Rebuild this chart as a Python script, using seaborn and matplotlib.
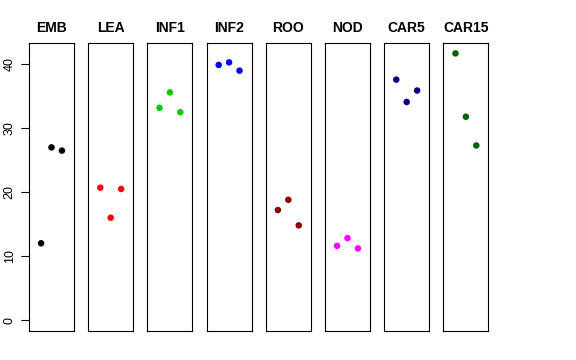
import pandas as pd
import matplotlib
matplotlib.use("Agg")
import matplotlib.pyplot as plt
import seaborn as sns

# Tissue groups and their three replicate values
groups = ["EMB", "LEA", "INF1", "INF2", "ROO", "NOD", "CAR5", "CAR15"]
emb = [12.0, 27.0, 26.5]
lea = [20.7, 16.0, 20.5]
inf1 = [33.2, 35.6, 32.5]
inf2 = [39.9, 40.3, 39.0]
roo = [17.2, 18.8, 14.8]
nod = [11.6, 12.8, 11.2]
car5 = [37.6, 34.1, 35.9]
car15 = [41.7, 31.8, 27.3]
colors = ["black", "red", "#00CD00", "blue", "#8B0000", "magenta", "#00008B", "#006400"]
replicate = [1, 2, 3]
y_ticks = [0, 10, 20, 30, 40]

values = [emb, lea, inf1, inf2, roo, nod, car5, car15]
df = pd.DataFrame({
    "group": [g for g in groups for _ in replicate],
    "replicate": replicate * len(groups),
    "value": [v for vals in values for v in vals],
})

sns.set_style("white")
plt.rcParams["font.family"] = ["Liberation Sans", "DejaVu Sans"]
plt.rcParams["text.color"] = "black"
plt.rcParams["ytick.color"] = "black"
plt.rcParams["axes.labelcolor"] = "black"

fig = plt.figure(figsize=(5.76, 3.6), dpi=100)
W, H = 576, 360
for i, (g, c) in enumerate(zip(groups, colors)):
    left = 29 + i * 59.2
    ax = fig.add_axes([left / W, (H - 331) / H, 45 / W, 288 / H])
    sub = df[df["group"] == g]
    sns.scatterplot(data=sub, x="replicate", y="value", color=c, s=22,
                    edgecolor="none", ax=ax, legend=False)
    ax.set_xlim(-0.16, 4.16)
    ax.set_ylim(-1.72, 43.33)
    ax.set_xticks([])
    ax.set_xlabel("")
    ax.set_ylabel("")
    ax.set_title(g, fontsize=10, fontweight="bold", pad=8, color="black")
    for sp in ax.spines.values():
        sp.set_visible(True)
        sp.set_color("black")
        sp.set_linewidth(0.8)
    if i == 0:
        ax.set_yticks(y_ticks)
        ax.set_yticklabels([str(t) for t in y_ticks], rotation=90, va="center", fontsize=9)
        ax.tick_params(axis="y", left=True, length=5.5, width=0.8, pad=4, colors="black")
    else:
        ax.set_yticks([])

fig.savefig("out.png", dpi=100)
